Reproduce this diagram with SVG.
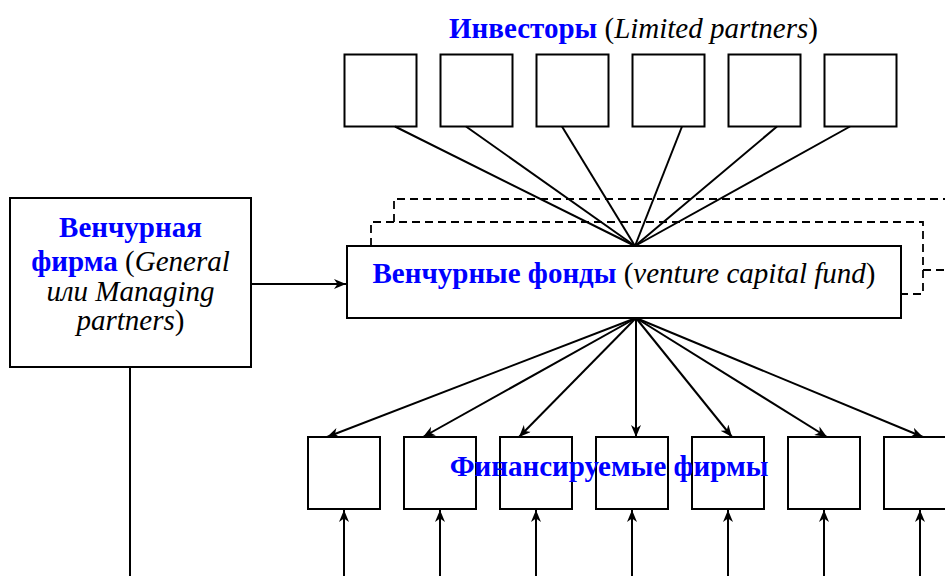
<svg xmlns="http://www.w3.org/2000/svg" width="945" height="576" viewBox="0 0 945 576">
<defs>
<style>
.box{fill:#fff;stroke:#000;stroke-width:2}
.ln{fill:none;stroke:#000;stroke-width:2}
.arr{fill:none;stroke:#000;stroke-width:2;marker-end:url(#ah)}
.dash{fill:none;stroke:#000;stroke-width:1.8;stroke-dasharray:8 5}
text{font-family:"Liberation Serif","Times New Roman",serif;font-size:29px;fill:#000}
.b{font-weight:bold;fill:#0000ff}
.i{font-style:italic}
</style>
<marker id="ah" markerUnits="userSpaceOnUse" markerWidth="14" markerHeight="10" refX="12" refY="5" orient="auto">
<path d="M0,0 L12,5 L0,10 L3.5,5 Z" fill="#000"/>
</marker>
</defs>
<rect width="945" height="576" fill="#fff"/>

<g id="dashed-stack">
<path class="dash" d="M394,222 V199 H945"/>
<path class="dash" d="M371,246 V222 H923 V294 H901"/>
<path class="dash" d="M923,270 H945"/>
</g>

<g id="investors-title">
<text x="633.5" y="38" text-anchor="middle"><tspan class="b">Инвесторы</tspan> (<tspan class="i">Limited partners</tspan>)</text>
</g>

<g id="investor-1"><rect class="box" x="344.5" y="54.5" width="72" height="72"/></g>
<g id="investor-2"><rect class="box" x="440.5" y="54.5" width="72" height="72"/></g>
<g id="investor-3"><rect class="box" x="536.5" y="54.5" width="72" height="72"/></g>
<g id="investor-4"><rect class="box" x="632.5" y="54.5" width="72" height="72"/></g>
<g id="investor-5"><rect class="box" x="728.5" y="54.5" width="72" height="72"/></g>
<g id="investor-6"><rect class="box" x="824.5" y="54.5" width="72" height="72"/></g>

<g id="venture-firm">
<rect class="box" x="10" y="198" width="241" height="169"/>
<text x="130.5" y="237" text-anchor="middle" class="b">Венчурная</text>
<text x="130.5" y="271" text-anchor="middle"><tspan class="b">фирма</tspan> (<tspan class="i">General</tspan></text>
<text x="130.5" y="301" text-anchor="middle" class="i">или Managing</text>
<text x="130.5" y="330" text-anchor="middle"><tspan class="i">partners</tspan>)</text>
</g>

<g id="venture-fund">
<rect class="box" x="347" y="246" width="554" height="72"/>
<text x="624" y="283" text-anchor="middle"><tspan class="b">Венчурные фонды</tspan> (<tspan class="i">venture capital fund</tspan>)</text>
</g>

<g id="firm-1"><rect class="box" x="308" y="437" width="72" height="72"/></g>
<g id="firm-2"><rect class="box" x="404" y="437" width="72" height="72"/></g>
<g id="firm-3"><rect class="box" x="500" y="437" width="72" height="72"/></g>
<g id="firm-4"><rect class="box" x="596" y="437" width="72" height="72"/></g>
<g id="firm-5"><rect class="box" x="692" y="437" width="72" height="72"/></g>
<g id="firm-6"><rect class="box" x="788" y="437" width="72" height="72"/></g>
<g id="firm-7"><rect class="box" x="884" y="437" width="72" height="72"/></g>

<g id="financed-label">
<text x="609" y="476" text-anchor="middle" class="b">Финансируемые фирмы</text>
</g>

<g id="connectors">
<path class="ln" d="M395,126.5 L635,246"/>
<path class="ln" d="M466,126.5 L635,246"/>
<path class="ln" d="M562,126.5 L635,246"/>
<path class="ln" d="M682,126.5 L635,246"/>
<path class="ln" d="M777,126.5 L635,246"/>
<path class="ln" d="M850,126.5 L635,246"/>

<path class="arr" d="M251,284 H346"/>

<path class="arr" d="M636,318 L327,437"/>
<path class="arr" d="M636,318 L423,437"/>
<path class="arr" d="M636,318 L519,437"/>
<path class="arr" d="M636,318 L636,437"/>
<path class="arr" d="M636,318 L732,437"/>
<path class="arr" d="M636,318 L827,437"/>
<path class="arr" d="M636,318 L923,437"/>

<path class="arr" d="M344,576 V510"/>
<path class="arr" d="M440,576 V510"/>
<path class="arr" d="M536,576 V510"/>
<path class="arr" d="M632,576 V510"/>
<path class="arr" d="M728,576 V510"/>
<path class="arr" d="M824,576 V510"/>
<path class="arr" d="M920,576 V510"/>

<path class="ln" d="M130,367 V576"/>
</g>
</svg>
